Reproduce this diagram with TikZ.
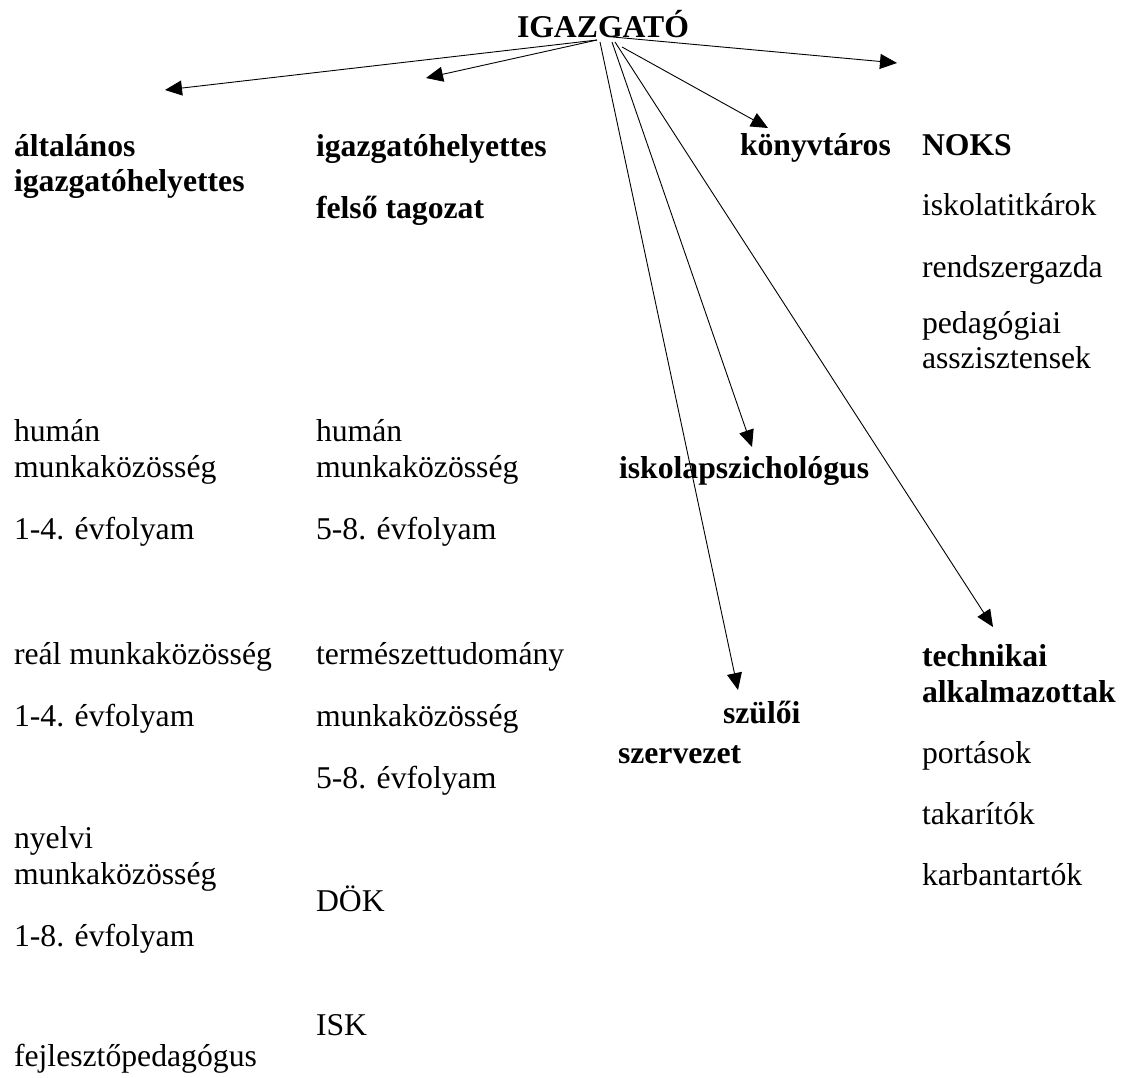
\documentclass[tikz,border=0pt]{standalone}
\usepackage{fontspec}
\setmainfont{Liberation Serif}
\usetikzlibrary{arrows.meta}

\begin{document}
\begin{tikzpicture}[x=1pt,y=-1pt,font=\fontsize{31.7}{36.5}\selectfont]
\tikzset{lbl/.style={anchor=base west,inner sep=0pt,outer sep=0pt},
hd/.style={lbl,font=\fontsize{31.7}{36.5}\selectfont\bfseries},
conn/.style={-{Triangle[length=17pt,width=15pt]},line width=0.9pt}}
\useasboundingbox (0,0) rectangle (1122,1077);

\node[hd] (igazgato) at (517,37) {IGAZGATÓ};

% first column
\node[hd] (alt1) at (14,156) {általános};
\node[hd] (alt2) at (14,191) {igazgatóhelyettes};
\foreach \y/\t [count=\i] in {441/humán,477/munkaközösség,539/1-4. évfolyam,664/reál munkaközösség,726/1-4. évfolyam,848/nyelvi,884/munkaközösség,946/1-8. évfolyam,1066/fejlesztőpedagógus}
  \node[lbl] (also-\i) at (14,\y) {\t};

% second column
\node[hd] (felso1) at (316,156) {igazgatóhelyettes};
\node[hd] (felso2) at (316,218) {felső tagozat};
\foreach \y/\t [count=\i] in {441/humán,477/munkaközösség,539/5-8. évfolyam,664/természettudomány,726/munkaközösség,788/5-8. évfolyam,911/DÖK,1035/ISK}
  \node[lbl] (felso-\i) at (316,\y) {\t};

% third column
\node[hd] (konyv) at (740,155) {könyvtáros};
\node[hd] (pszich) at (619,478) {iskolapszichológus};
\node[hd] (szulo1) at (723,723) {szülői};
\node[hd] (szulo2) at (618,763) {szervezet};

% fourth column
\node[hd] (noks) at (922,155) {NOKS};
\foreach \y/\t [count=\i] in {215/iskolatitkárok,277/rendszergazda,333/pedagógiai,368/asszisztensek}
  \node[lbl] (noks-\i) at (922,\y) {\t};
\node[hd] (tech1) at (922,666) {technikai};
\node[hd] (tech2) at (922,702) {alkalmazottak};
\foreach \y/\t [count=\i] in {763/portások,824/takarítók,885/karbantartók}
  \node[lbl] (tech-\i) at (922,\y) {\t};

% arrow ends
\coordinate (s-bal) at (597,40);
\coordinate (s-szulo) at (600,42);
\coordinate (s-pszich) at (612,42);
\coordinate (s-tech) at (615,42);
\coordinate (s-konyv) at (622,47);
\coordinate (s-noks) at (613,37);
\coordinate (t-alt) at (165,90);
\coordinate (t-felso) at (426,78);
\coordinate (t-konyv) at (768,128);
\coordinate (t-noks) at (897,63);
\coordinate (t-pszich) at (752,447);
\coordinate (t-szulo) at (738,690);
\coordinate (t-tech) at (993,627);

\draw[conn] (s-bal) -- (t-alt);
\draw[conn] (s-bal) -- (t-felso);
\draw[conn] (s-noks) -- (t-noks);
\draw[conn] (s-konyv) -- (t-konyv);
\draw[conn] (s-pszich) -- (t-pszich);
\draw[conn] (s-szulo) -- (t-szulo);
\draw[conn] (s-tech) -- (t-tech);

\end{tikzpicture}
\end{document}
